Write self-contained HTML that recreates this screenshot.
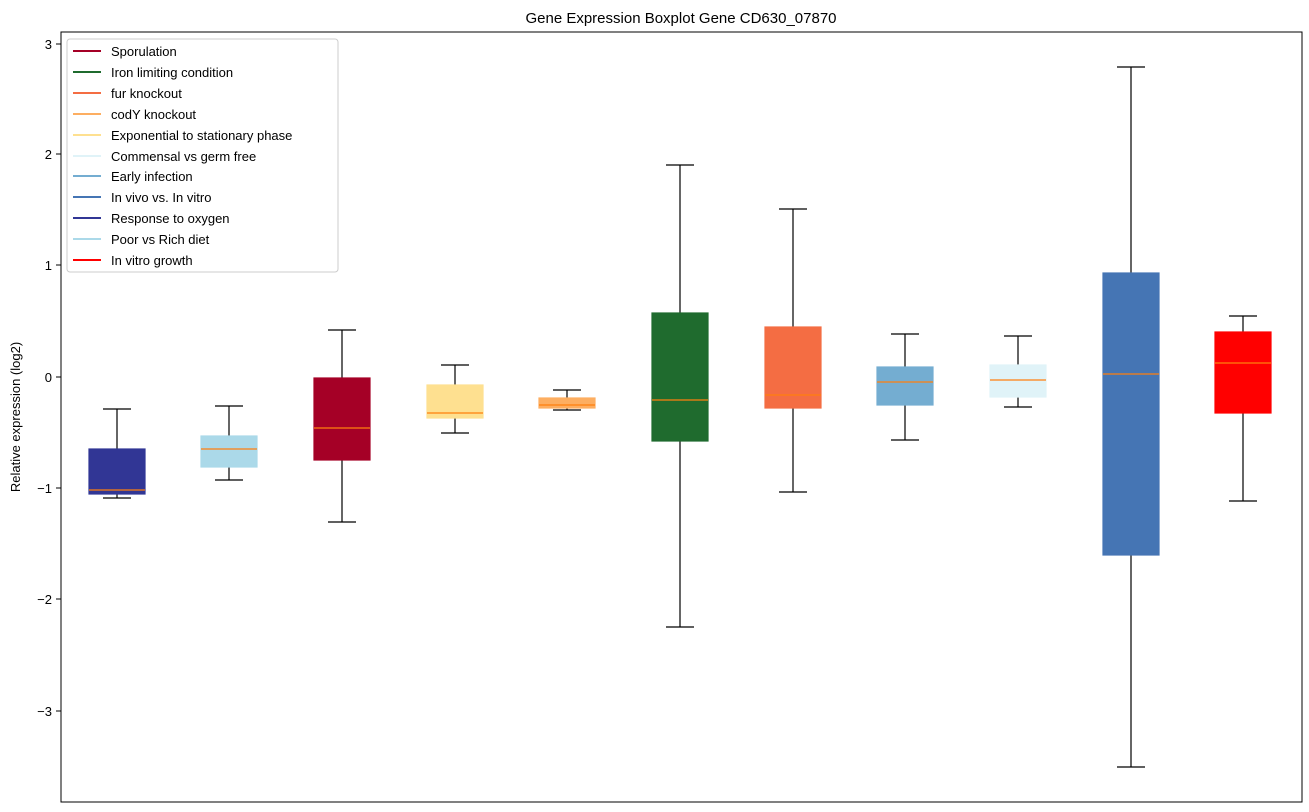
<!DOCTYPE html>
<html><head><style>body{margin:0;background:#fff}svg{display:block;font-family:"Liberation Sans","DejaVu Sans",sans-serif}</style></head><body>
<svg width="1309" height="812" xmlns="http://www.w3.org/2000/svg">
<rect width="1309" height="812" fill="#fff"/>
<text x="681" y="23" font-size="15" text-anchor="middle">Gene Expression Boxplot Gene CD630_07870</text>
<g font-size="13" text-anchor="end" stroke-width="1">
<line x1="56" x2="61" y1="44" y2="44" stroke="#000"/><text x="52" y="49">3</text>
<line x1="56" x2="61" y1="154" y2="154" stroke="#000"/><text x="52" y="159">2</text>
<line x1="56" x2="61" y1="265" y2="265" stroke="#000"/><text x="52" y="270">1</text>
<line x1="56" x2="61" y1="377" y2="377" stroke="#000"/><text x="52" y="382">0</text>
<line x1="56" x2="61" y1="488" y2="488" stroke="#000"/><text x="52" y="493">−1</text>
<line x1="56" x2="61" y1="599" y2="599" stroke="#000"/><text x="52" y="604">−2</text>
<line x1="56" x2="61" y1="711" y2="711" stroke="#000"/><text x="52" y="716">−3</text>
</g>
<text transform="translate(20,417) rotate(-90)" font-size="13" text-anchor="middle">Relative expression (log2)</text>

<g stroke="#000" stroke-width="1.2">
<!-- 1 -->
<line x1="117" x2="117" y1="409" y2="449"/><line x1="117" x2="117" y1="494" y2="498"/>
<line x1="103" x2="131" y1="409" y2="409"/><line x1="103" x2="131" y1="498" y2="498"/>
<rect x="89" y="449" width="56" height="45" fill="#313695" stroke="#313695"/>
<line x1="89" x2="145" y1="490" y2="490" stroke="#ff7f0e"/>
<!-- 2 -->
<line x1="229" x2="229" y1="406" y2="436"/><line x1="229" x2="229" y1="467" y2="480"/>
<line x1="215" x2="243" y1="406" y2="406"/><line x1="215" x2="243" y1="480" y2="480"/>
<rect x="201" y="436" width="56" height="31" fill="#abd9e9" stroke="#abd9e9"/>
<line x1="201" x2="257" y1="449" y2="449" stroke="#ff7f0e"/>
<!-- 3 -->
<line x1="342" x2="342" y1="330" y2="378"/><line x1="342" x2="342" y1="460" y2="522"/>
<line x1="328" x2="356" y1="330" y2="330"/><line x1="328" x2="356" y1="522" y2="522"/>
<rect x="314" y="378" width="56" height="82" fill="#a50026" stroke="#a50026"/>
<line x1="314" x2="370" y1="428" y2="428" stroke="#ff7f0e"/>
<!-- 4 -->
<line x1="455" x2="455" y1="365" y2="385"/><line x1="455" x2="455" y1="418" y2="433"/>
<line x1="441" x2="469" y1="365" y2="365"/><line x1="441" x2="469" y1="433" y2="433"/>
<rect x="427" y="385" width="56" height="33" fill="#fee090" stroke="#fee090"/>
<line x1="427" x2="483" y1="413" y2="413" stroke="#ff7f0e"/>
<!-- 5 -->
<line x1="567" x2="567" y1="390" y2="398"/><line x1="567" x2="567" y1="408" y2="410"/>
<line x1="553" x2="581" y1="390" y2="390"/><line x1="553" x2="581" y1="410" y2="410"/>
<rect x="539" y="398" width="56" height="10" fill="#fdae61" stroke="#fdae61"/>
<line x1="539" x2="595" y1="405" y2="405" stroke="#ff7f0e"/>
<!-- 6 -->
<line x1="680" x2="680" y1="165" y2="313"/><line x1="680" x2="680" y1="441" y2="627"/>
<line x1="666" x2="694" y1="165" y2="165"/><line x1="666" x2="694" y1="627" y2="627"/>
<rect x="652" y="313" width="56" height="128" fill="#1f6b2e" stroke="#1f6b2e"/>
<line x1="652" x2="708" y1="400" y2="400" stroke="#ff7f0e"/>
<!-- 7 -->
<line x1="793" x2="793" y1="209" y2="327"/><line x1="793" x2="793" y1="408" y2="492"/>
<line x1="779" x2="807" y1="209" y2="209"/><line x1="779" x2="807" y1="492" y2="492"/>
<rect x="765" y="327" width="56" height="81" fill="#f46d43" stroke="#f46d43"/>
<line x1="765" x2="821" y1="395" y2="395" stroke="#ff7f0e"/>
<!-- 8 -->
<line x1="905" x2="905" y1="334" y2="367"/><line x1="905" x2="905" y1="405" y2="440"/>
<line x1="891" x2="919" y1="334" y2="334"/><line x1="891" x2="919" y1="440" y2="440"/>
<rect x="877" y="367" width="56" height="38" fill="#74add1" stroke="#74add1"/>
<line x1="877" x2="933" y1="382" y2="382" stroke="#ff7f0e"/>
<!-- 9 -->
<line x1="1018" x2="1018" y1="336" y2="365"/><line x1="1018" x2="1018" y1="397" y2="407"/>
<line x1="1004" x2="1032" y1="336" y2="336"/><line x1="1004" x2="1032" y1="407" y2="407"/>
<rect x="990" y="365" width="56" height="32" fill="#e0f3f8" stroke="#e0f3f8"/>
<line x1="990" x2="1046" y1="380" y2="380" stroke="#ff7f0e"/>
<!-- 10 -->
<line x1="1131" x2="1131" y1="67" y2="273"/><line x1="1131" x2="1131" y1="555" y2="767"/>
<line x1="1117" x2="1145" y1="67" y2="67"/><line x1="1117" x2="1145" y1="767" y2="767"/>
<rect x="1103" y="273" width="56" height="282" fill="#4575b4" stroke="#4575b4"/>
<line x1="1103" x2="1159" y1="374" y2="374" stroke="#ff7f0e"/>
<!-- 11 -->
<line x1="1243" x2="1243" y1="316" y2="332"/><line x1="1243" x2="1243" y1="413" y2="501"/>
<line x1="1229" x2="1257" y1="316" y2="316"/><line x1="1229" x2="1257" y1="501" y2="501"/>
<rect x="1215" y="332" width="56" height="81" fill="#ff0000" stroke="#ff0000"/>
<line x1="1215" x2="1271" y1="363" y2="363" stroke="#ff7f0e"/>
</g>

<rect x="61" y="32" width="1241" height="770" fill="none" stroke="#000" stroke-width="1"/>
<rect x="67" y="39" width="271" height="233" fill="#fff" fill-opacity="0.8" stroke="#ccc" rx="3"/>
<g font-size="13" stroke-width="2">
<line x1="73" x2="101" y1="51" y2="51" stroke="#a50026"/><text x="111" y="56">Sporulation</text>
<line x1="73" x2="101" y1="72" y2="72" stroke="#1f6b2e"/><text x="111" y="77">Iron limiting condition</text>
<line x1="73" x2="101" y1="93" y2="93" stroke="#f46d43"/><text x="111" y="98">fur knockout</text>
<line x1="73" x2="101" y1="114" y2="114" stroke="#fdae61"/><text x="111" y="119">codY knockout</text>
<line x1="73" x2="101" y1="135" y2="135" stroke="#fee090"/><text x="111" y="140">Exponential to stationary phase</text>
<line x1="73" x2="101" y1="156" y2="156" stroke="#e0f3f8"/><text x="111" y="161">Commensal vs germ free</text>
<line x1="73" x2="101" y1="176" y2="176" stroke="#74add1"/><text x="111" y="181">Early infection</text>
<line x1="73" x2="101" y1="197" y2="197" stroke="#4575b4"/><text x="111" y="202">In vivo vs. In vitro</text>
<line x1="73" x2="101" y1="218" y2="218" stroke="#313695"/><text x="111" y="223">Response to oxygen</text>
<line x1="73" x2="101" y1="239" y2="239" stroke="#abd9e9"/><text x="111" y="244">Poor vs Rich diet</text>
<line x1="73" x2="101" y1="260" y2="260" stroke="#ff0000"/><text x="111" y="265">In vitro growth</text>
</g>
</svg>
</body></html>
